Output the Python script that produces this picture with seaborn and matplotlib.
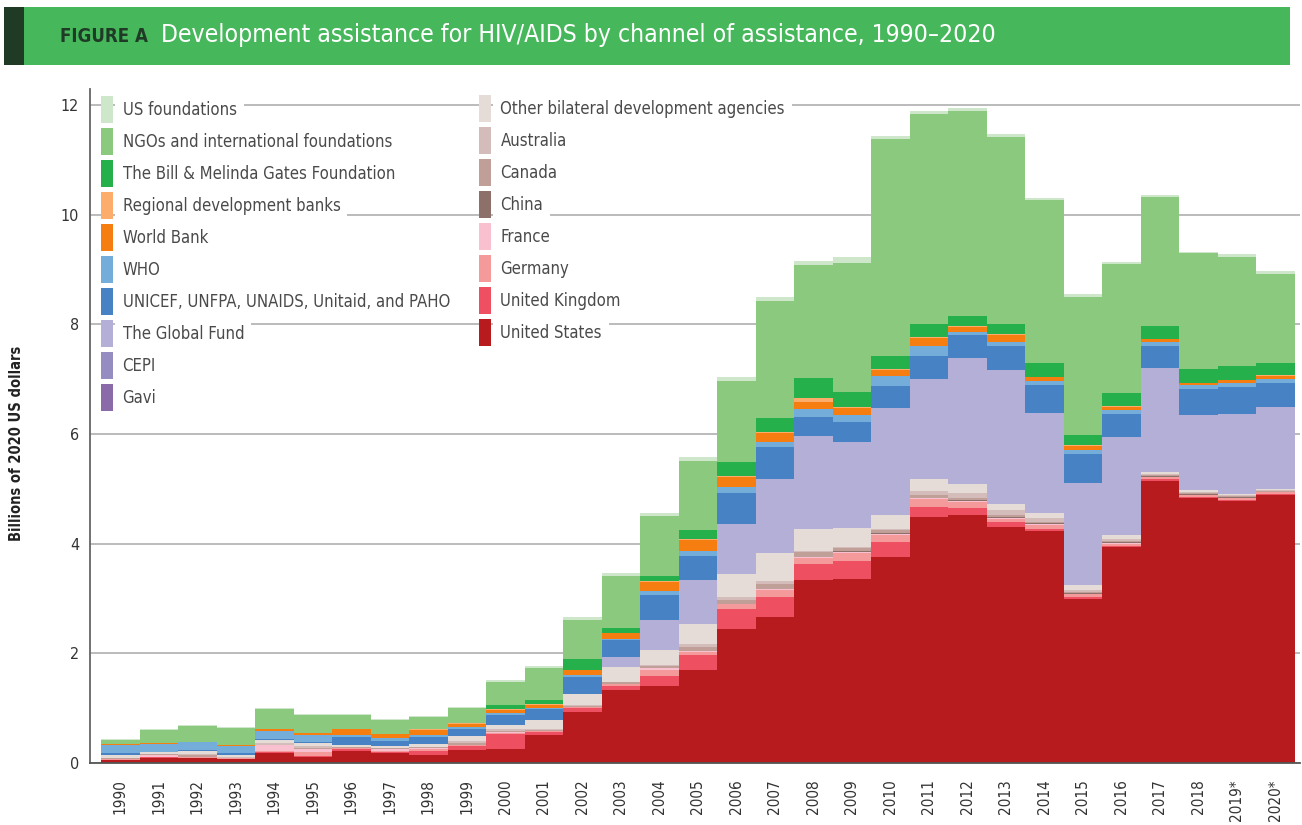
import pandas as pd
import matplotlib.pyplot as plt
import seaborn as sns
from matplotlib.patches import Patch, Rectangle

# ---- data (billions of 2020 US dollars) ----
years = ['1990', '1991', '1992', '1993', '1994', '1995', '1996', '1997', '1998', '1999',
         '2000', '2001', '2002', '2003', '2004', '2005', '2006', '2007', '2008', '2009',
         '2010', '2011', '2012', '2013', '2014', '2015', '2016', '2017', '2018', '2019*', '2020*']

united_states = [0.04, 0.09, 0.08, 0.06, 0.18, 0.10, 0.22, 0.17, 0.14, 0.23,
                 0.25, 0.51, 0.93, 1.33, 1.39, 1.70, 2.44, 2.65, 3.34, 3.35,
                 3.75, 4.49, 4.53, 4.30, 4.22, 2.99, 3.93, 5.15, 4.83, 4.78, 4.89]
united_kingdom = [0.01, 0.01, 0.01, 0.01, 0.02, 0.02, 0.02, 0.02, 0.07, 0.07,
                  0.27, 0.05, 0.07, 0.06, 0.19, 0.27, 0.36, 0.37, 0.29, 0.33,
                  0.27, 0.18, 0.11, 0.09, 0.05, 0.03, 0.02, 0.02, 0.02, 0.02, 0.02]
germany = [0.01, 0.01, 0.01, 0.005, 0.01, 0.07, 0.02, 0.03, 0.03, 0.02,
           0.02, 0.01, 0.01, 0.04, 0.12, 0.05, 0.09, 0.14, 0.11, 0.15,
           0.13, 0.14, 0.11, 0.06, 0.07, 0.05, 0.04, 0.04, 0.03, 0.03, 0.03]
france = [0.01, 0.03, 0.01, 0.005, 0.11, 0.05, 0.01, 0.02, 0.02, 0.01,
          0.01, 0.01, 0.01, 0.01, 0.02, 0.01, 0.01, 0.01, 0.01, 0.02,
          0.03, 0.02, 0.03, 0.02, 0.02, 0.01, 0.02, 0.01, 0.01, 0.01, 0.01]
china = [0, 0, 0, 0, 0, 0, 0, 0, 0, 0,
         0, 0, 0, 0, 0, 0, 0, 0, 0.01, 0.01,
         0.02, 0.01, 0.01, 0.01, 0.01, 0.01, 0.01, 0.01, 0.01, 0.01, 0.0]
canada = [0.01, 0.01, 0.02, 0.01, 0.01, 0.03, 0.01, 0.02, 0.02, 0.03,
          0.03, 0.02, 0.02, 0.03, 0.04, 0.08, 0.07, 0.10, 0.08, 0.05,
          0.04, 0.05, 0.04, 0.04, 0.02, 0.02, 0.02, 0.02, 0.02, 0.01, 0.01]
australia = [0.005, 0.005, 0.02, 0.01, 0.02, 0.03, 0.01, 0.01, 0.01, 0.03,
             0.03, 0.02, 0.01, 0.01, 0.02, 0.05, 0.06, 0.05, 0.02, 0.03,
             0.02, 0.07, 0.09, 0.09, 0.07, 0.04, 0.05, 0.02, 0.02, 0.02, 0.02]
other_bilateral = [0.06, 0.03, 0.06, 0.04, 0.06, 0.05, 0.04, 0.03, 0.05, 0.09,
                   0.08, 0.15, 0.21, 0.27, 0.27, 0.37, 0.42, 0.51, 0.40, 0.35,
                   0.26, 0.22, 0.17, 0.12, 0.09, 0.09, 0.06, 0.04, 0.04, 0.03, 0.02]
gavi = [0] * 31
cepi = [0] * 31
global_fund = [0, 0, 0, 0, 0, 0, 0, 0, 0, 0,
               0, 0, 0, 0.18, 0.55, 0.81, 0.91, 1.35, 1.70, 1.57,
               1.96, 1.83, 2.30, 2.44, 1.84, 1.87, 1.79, 1.89, 1.37, 1.46, 1.49]
unicef_etc = [0.03, 0.01, 0.02, 0.04, 0.03, 0.03, 0.13, 0.10, 0.12, 0.13,
              0.18, 0.20, 0.31, 0.30, 0.46, 0.44, 0.57, 0.59, 0.35, 0.36,
              0.40, 0.42, 0.42, 0.44, 0.51, 0.53, 0.43, 0.41, 0.48, 0.48, 0.44]
who = [0.15, 0.15, 0.14, 0.13, 0.14, 0.12, 0.05, 0.05, 0.04, 0.04,
       0.03, 0.03, 0.03, 0.03, 0.08, 0.09, 0.11, 0.09, 0.15, 0.13,
       0.18, 0.18, 0.06, 0.07, 0.06, 0.07, 0.07, 0.07, 0.07, 0.09, 0.07]
world_bank = [0.01, 0.005, 0.005, 0.005, 0.04, 0.04, 0.10, 0.07, 0.10, 0.05,
              0.06, 0.06, 0.09, 0.10, 0.16, 0.20, 0.17, 0.15, 0.13, 0.12,
              0.11, 0.15, 0.09, 0.13, 0.08, 0.08, 0.06, 0.05, 0.03, 0.05, 0.06]
regional_banks = [0, 0, 0, 0, 0, 0, 0.01, 0.01, 0.01, 0.02,
                  0.01, 0.01, 0.01, 0.01, 0.02, 0.02, 0.03, 0.03, 0.07, 0.03,
                  0.01, 0.02, 0.02, 0.02, 0.01, 0.01, 0.02, 0, 0, 0, 0.02]
gates = [0, 0, 0, 0, 0, 0, 0, 0, 0, 0,
         0.09, 0.07, 0.20, 0.09, 0.09, 0.16, 0.25, 0.26, 0.36, 0.27,
         0.24, 0.22, 0.18, 0.18, 0.24, 0.19, 0.23, 0.24, 0.26, 0.26, 0.22]
ngos = [0.08, 0.25, 0.30, 0.32, 0.36, 0.33, 0.25, 0.24, 0.22, 0.27,
        0.41, 0.58, 0.70, 0.94, 1.10, 1.26, 1.47, 2.12, 2.07, 2.36,
        3.97, 3.85, 3.73, 3.42, 2.99, 2.52, 2.35, 2.35, 2.11, 1.99, 1.63]
us_foundations = [0.02, 0.02, 0.02, 0.02, 0.02, 0.02, 0.02, 0.02, 0.02, 0.03,
                  0.03, 0.05, 0.05, 0.06, 0.05, 0.07, 0.09, 0.08, 0.07, 0.10,
                  0.06, 0.05, 0.06, 0.04, 0.03, 0.04, 0.04, 0.04, 0.03, 0.04, 0.04]

# bottom -> top stacking order
df = pd.DataFrame({
    'United States': united_states,
    'United Kingdom': united_kingdom,
    'Germany': germany,
    'France': france,
    'China': china,
    'Canada': canada,
    'Australia': australia,
    'Other bilateral development agencies': other_bilateral,
    'Gavi': gavi,
    'CEPI': cepi,
    'The Global Fund': global_fund,
    'UNICEF, UNFPA, UNAIDS, Unitaid, and PAHO': unicef_etc,
    'WHO': who,
    'World Bank': world_bank,
    'Regional development banks': regional_banks,
    'The Bill & Melinda Gates Foundation': gates,
    'NGOs and international foundations': ngos,
    'US foundations': us_foundations,
}, index=years)

colors = {
    'United States': '#b81b1e',
    'United Kingdom': '#ef5061',
    'Germany': '#f49a9b',
    'France': '#f9c0cf',
    'China': '#8d7069',
    'Canada': '#c19f99',
    'Australia': '#d3bcb9',
    'Other bilateral development agencies': '#e5dbd7',
    'Gavi': '#8a6aa9',
    'CEPI': '#958cc1',
    'The Global Fund': '#b3afd7',
    'UNICEF, UNFPA, UNAIDS, Unitaid, and PAHO': '#4682c4',
    'WHO': '#74acda',
    'World Bank': '#f67e11',
    'Regional development banks': '#fdad6b',
    'The Bill & Melinda Gates Foundation': '#26b04b',
    'NGOs and international foundations': '#8bc97f',
    'US foundations': '#cee7cb',
}

sns.set_style('white')
plt.rcParams['font.family'] = ['DejaVu Sans']
plt.rcParams['font.stretch'] = 'condensed'

W, H = 1302, 825
fig = plt.figure(figsize=(W / 100, H / 100), dpi=100)
renderer = fig.canvas.get_renderer()


def fit_size(s, target_px, **kw):
    # font size that makes string s about target_px wide
    t = fig.text(0, 0, s, fontsize=20, **kw)
    w = t.get_window_extent(renderer=renderer).width
    t.remove()
    return 20 * target_px / w


legend_fs = fit_size('NGOs and international foundations', 269)
title_fs = fit_size('Development assistance for HIV/AIDS by channel of assistance, 1990\u20132020', 836)
fig_a_fs = fit_size('FIGURE A', 88, fontweight='bold')
tick_fs = fit_size('1990', 35)
ylab_fs = fit_size('Billions of 2020 US dollars', 195, fontweight='bold')

ax = fig.add_axes([90 / W, 1 - 762.6 / H, (1300 - 90) / W, (762.6 - 89) / H])

# stacked bars: draw cumulative totals from the top series down
cum = df.cumsum(axis=1)
for col in reversed(df.columns):
    sns.barplot(x=years, y=cum[col].values, color=colors[col], width=1,
                saturation=1, linewidth=0, ax=ax, zorder=2)

ax.set_xlim(-0.786, 30.64)
ax.set_ylim(0, 12.3)
ax.set_yticks([0, 2, 4, 6, 8, 10, 12])
ax.yaxis.grid(True, color='#b5b5b5', lw=1.3)
ax.set_axisbelow(True)
ax.set_xlabel('')
ax.set_ylabel('')
sns.despine(ax=ax, top=True, right=True)
ax.spines['left'].set_color('#666666')
ax.spines['left'].set_linewidth(1.3)
ax.spines['bottom'].set_color('#555555')
ax.spines['bottom'].set_linewidth(1.3)
ax.tick_params(axis='x', length=8, width=1.3, color='#777777', labelsize=tick_fs,
               labelcolor='#333333', labelrotation=90, pad=4)
ax.tick_params(axis='y', length=0, labelsize=tick_fs * 1.05, labelcolor='#333333', pad=8)

# legends
left_items = ['US foundations', 'NGOs and international foundations',
              'The Bill & Melinda Gates Foundation', 'Regional development banks',
              'World Bank', 'WHO', 'UNICEF, UNFPA, UNAIDS, Unitaid, and PAHO',
              'The Global Fund', 'CEPI', 'Gavi']
right_items = ['Other bilateral development agencies', 'Australia', 'Canada', 'China',
               'France', 'Germany', 'United Kingdom', 'United States']

fs_px = legend_fs * 100 / 72


def make_legend(items, x, y):
    handles = [Patch(facecolor=colors[k], edgecolor='none') for k in items]
    leg = ax.legend(handles, items, loc='upper left',
                    bbox_to_anchor=(x / W, 1 - y / H), bbox_transform=fig.transFigure,
                    frameon=False, fontsize=legend_fs,
                    handlelength=11.5 / fs_px, handleheight=36 / fs_px,
                    handletextpad=10 / fs_px, labelspacing=4.5 / fs_px,
                    borderpad=0, borderaxespad=0)
    for t in leg.get_texts():
        t.set_color('#4a4a4a')
        t.set_bbox(dict(facecolor='white', edgecolor='none', pad=5))
    leg.set_zorder(5)
    return leg


leg1 = make_legend(left_items, 101, 96)
ax.add_artist(leg1)
make_legend(right_items, 479, 95)

# header band
fig.add_artist(Rectangle((4 / W, 1 - 65 / H), (1290 - 4) / W, 58 / H,
                         transform=fig.transFigure, color='#47b75c', lw=0))
fig.add_artist(Rectangle((4 / W, 1 - 65 / H), 20 / W, 58 / H,
                         transform=fig.transFigure, color='#1f3b26', lw=0))
fig.text(60 / W, 1 - 37 / H, 'FIGURE A', color='#1f3b26', fontsize=fig_a_fs,
         fontweight='bold', va='center', ha='left')
fig.text(161 / W, 1 - 35 / H,
         'Development assistance for HIV/AIDS by channel of assistance, 1990\u20132020',
         color='white', fontsize=title_fs, va='center', ha='left')

fig.text(17 / W, 1 - 443 / H, 'Billions of 2020 US dollars', rotation=90,
         fontsize=ylab_fs, fontweight='bold', color='#222222', va='center', ha='center')

fig.savefig('out.png', dpi=100, facecolor='white')
